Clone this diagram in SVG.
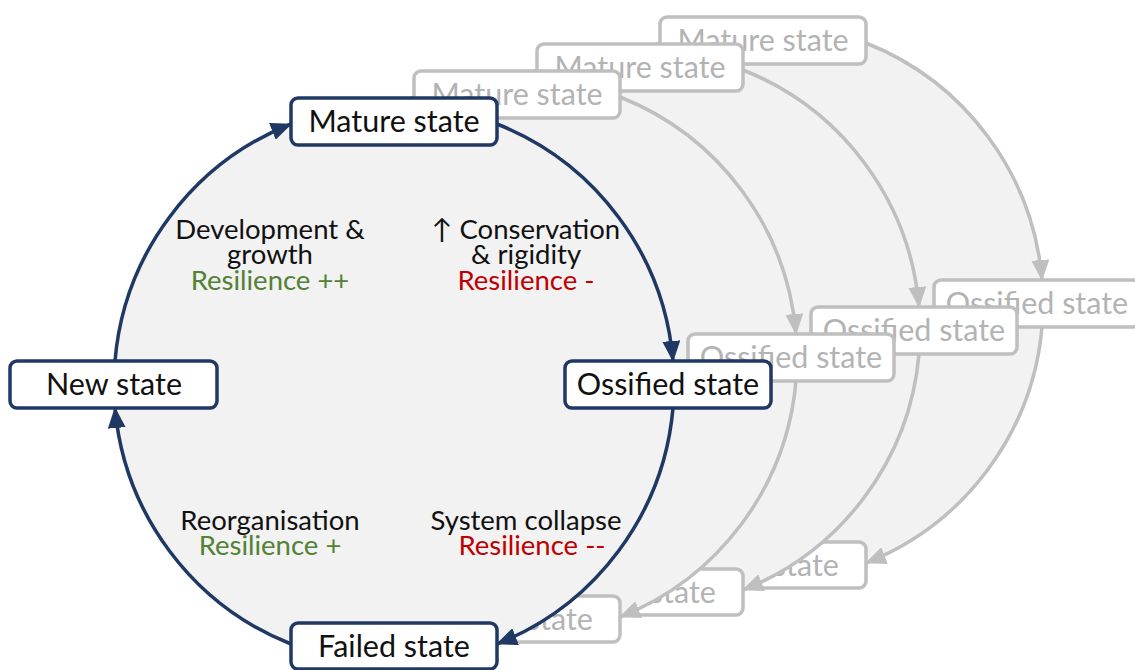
<svg xmlns="http://www.w3.org/2000/svg" width="1135" height="670" viewBox="0 0 1135 670">
  <style>
    .disc { fill: #f2f2f2; stroke: none; }
    .arc { fill: none; stroke-width: 3.5; }
    .arc.main { stroke: #1f3864; }
    .arc.ghost { stroke: #bfbfbf; }
    .box { fill: #ffffff; stroke-width: 3.5; }
    .box.main { stroke: #1f3864; }
    .box.ghost { stroke: #bfbfbf; }
    .lbl { font-family: Lato, "Liberation Sans", sans-serif; text-anchor: middle; }
    .node-txt { font-size: 30.5px; }
    .node-txt.main { fill: #111111; }
    .node-txt.ghost { fill: #b3b3b3; }
    .phase { font-size: 27.5px; fill: #111111; }
    .up { fill: #538135; }
    .down { fill: #c00000; }
  </style>
  <defs>
    <marker id="arrow-main" markerUnits="userSpaceOnUse" markerWidth="22" markerHeight="18" refX="20" refY="9" orient="auto">
      <path d="M0,0 L21,9 L0,18 Z" fill="#1f3864"/>
    </marker>
    <marker id="arrow-ghost" markerUnits="userSpaceOnUse" markerWidth="22" markerHeight="18" refX="20" refY="9" orient="auto">
      <path d="M0,0 L21,9 L0,18 Z" fill="#bfbfbf"/>
    </marker>
  </defs>

  <rect x="0" y="0" width="1135" height="670" fill="#ffffff"/>

  <!-- Earlier cycles, stacked behind the current one (furthest first) -->
  <g id="cycle-3" transform="translate(369,-81)">
    <circle class="disc" cx="394" cy="384" r="280"/>
    <g id="cycle-3-connectors">
      <path class="arc ghost" d="M115,361 A280,280 0 0 1 291,124"/>
      <path class="arc ghost" d="M497,124 A280,280 0 0 1 673,361" marker-end="url(#arrow-ghost)"/>
      <path class="arc ghost" d="M673,408 A280,280 0 0 1 497,644" marker-end="url(#arrow-ghost)"/>
    </g>
    <g id="cycle-3-mature">
      <rect class="box ghost" x="291" y="98" width="206" height="47" rx="7"/>
      <text class="lbl node-txt ghost" x="394" y="132">Mature state</text>
    </g>
    <g id="cycle-3-ossified">
      <rect class="box ghost" x="565" y="361" width="206" height="47" rx="7"/>
      <text class="lbl node-txt ghost" x="668" y="395">Ossified state</text>
    </g>
    <g id="cycle-3-failed">
      <rect class="box ghost" x="291" y="623" width="206" height="46" rx="7"/>
      <text class="lbl node-txt ghost" x="394" y="657">Failed state</text>
    </g>
  </g>

  <g id="cycle-2" transform="translate(246,-54)">
    <circle class="disc" cx="394" cy="384" r="280"/>
    <g id="cycle-2-connectors">
      <path class="arc ghost" d="M115,361 A280,280 0 0 1 291,124"/>
      <path class="arc ghost" d="M497,124 A280,280 0 0 1 673,361" marker-end="url(#arrow-ghost)"/>
      <path class="arc ghost" d="M673,408 A280,280 0 0 1 497,644" marker-end="url(#arrow-ghost)"/>
    </g>
    <g id="cycle-2-mature">
      <rect class="box ghost" x="291" y="98" width="206" height="47" rx="7"/>
      <text class="lbl node-txt ghost" x="394" y="132">Mature state</text>
    </g>
    <g id="cycle-2-ossified">
      <rect class="box ghost" x="565" y="361" width="206" height="47" rx="7"/>
      <text class="lbl node-txt ghost" x="668" y="395">Ossified state</text>
    </g>
    <g id="cycle-2-failed">
      <rect class="box ghost" x="291" y="623" width="206" height="46" rx="7"/>
      <text class="lbl node-txt ghost" x="394" y="657">Failed state</text>
    </g>
  </g>

  <g id="cycle-1" transform="translate(123,-27)">
    <circle class="disc" cx="394" cy="384" r="280"/>
    <g id="cycle-1-connectors">
      <path class="arc ghost" d="M115,361 A280,280 0 0 1 291,124"/>
      <path class="arc ghost" d="M497,124 A280,280 0 0 1 673,361" marker-end="url(#arrow-ghost)"/>
      <path class="arc ghost" d="M673,408 A280,280 0 0 1 497,644" marker-end="url(#arrow-ghost)"/>
    </g>
    <g id="cycle-1-mature">
      <rect class="box ghost" x="291" y="98" width="206" height="47" rx="7"/>
      <text class="lbl node-txt ghost" x="394" y="132">Mature state</text>
    </g>
    <g id="cycle-1-ossified">
      <rect class="box ghost" x="565" y="361" width="206" height="47" rx="7"/>
      <text class="lbl node-txt ghost" x="668" y="395">Ossified state</text>
    </g>
    <g id="cycle-1-failed">
      <rect class="box ghost" x="291" y="623" width="206" height="46" rx="7"/>
      <text class="lbl node-txt ghost" x="394" y="657">Failed state</text>
    </g>
  </g>

  <!-- Current cycle -->
  <g id="cycle-current">
    <circle class="disc" cx="394" cy="384" r="280"/>

    <g id="phase-labels">
      <text class="lbl phase" x="270" y="239">Development &amp;</text>
      <text class="lbl phase" x="270" y="264">growth</text>
      <text class="lbl phase up" x="270" y="290">Resilience ++</text>

      <text class="lbl phase" x="526" y="239">↑ Conservation</text>
      <text class="lbl phase" x="526" y="264">&amp; rigidity</text>
      <text class="lbl phase down" x="526" y="290">Resilience -</text>

      <text class="lbl phase" x="270" y="530">Reorganisation</text>
      <text class="lbl phase up" x="270" y="555">Resilience +</text>

      <text class="lbl phase" x="526" y="530">System collapse</text>
      <text class="lbl phase down" x="532" y="555">Resilience --</text>
    </g>

    <g id="connectors">
      <path class="arc main" d="M115,361 A280,280 0 0 1 291,124" marker-end="url(#arrow-main)"/>
      <path class="arc main" d="M497,124 A280,280 0 0 1 673,361" marker-end="url(#arrow-main)"/>
      <path class="arc main" d="M673,408 A280,280 0 0 1 497,644" marker-end="url(#arrow-main)"/>
      <path class="arc main" d="M291,644 A280,280 0 0 1 115,408" marker-end="url(#arrow-main)"/>
    </g>

    <g id="mature">
      <rect class="box main" x="291" y="98" width="206" height="47" rx="7"/>
      <text class="lbl node-txt main" x="394" y="132">Mature state</text>
    </g>
    <g id="ossified">
      <rect class="box main" x="565" y="361" width="206" height="47" rx="7"/>
      <text class="lbl node-txt main" x="668" y="395">Ossified state</text>
    </g>
    <g id="failed">
      <rect class="box main" x="291" y="623" width="206" height="46" rx="7"/>
      <text class="lbl node-txt main" x="394" y="657">Failed state</text>
    </g>
    <g id="new">
      <rect class="box main" x="10" y="361" width="207" height="47" rx="7"/>
      <text class="lbl node-txt main" x="114" y="395">New state</text>
    </g>
  </g>
</svg>
